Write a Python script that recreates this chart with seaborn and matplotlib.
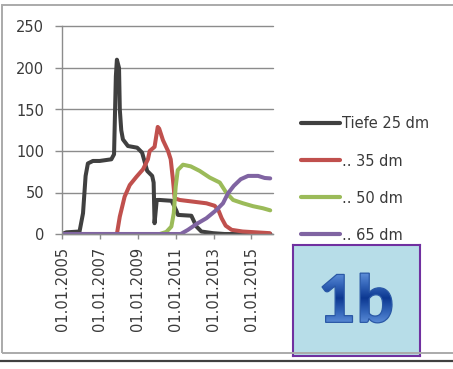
import numpy as np
import pandas as pd
import matplotlib
matplotlib.use("Agg")
import matplotlib.pyplot as plt
import matplotlib.dates as mdates
import matplotlib.transforms as mtransforms
from matplotlib.textpath import TextPath
from matplotlib.patches import PathPatch, Rectangle
from matplotlib.font_manager import FontProperties
from matplotlib.colors import LinearSegmentedColormap
from matplotlib.lines import Line2D
import seaborn as sns

# Measured series per depth
labels = ["Tiefe 25 dm", ".. 35 dm", ".. 50 dm", ".. 65 dm"]
colors = ["#404040", "#c0504d", "#9bbb59", "#8064a2"]

dates_25 = ["2005-01-01", "2005-03-25", "2005-12-05", "2006-02-10", "2006-04-01",
            "2006-05-15", "2006-08-20", "2006-12-28", "2007-08-10", "2007-10-01",
            "2007-11-05", "2007-11-25", "2008-01-05", "2008-01-20", "2008-02-17",
            "2008-03-20", "2008-06-25", "2008-12-20", "2009-03-25", "2009-07-01",
            "2009-10-05", "2009-11-02", "2009-11-20", "2010-01-01", "2010-02-28",
            "2010-10-15", "2011-01-15", "2011-02-14", "2011-10-30", "2012-02-05",
            "2012-05-10", "2012-12-20", "2013-08-01", "2016-01-01"]
values_25 = [0, 2, 3, 25, 70, 85, 88, 88, 90, 96,
             190, 210, 200, 150, 125, 114, 106, 104, 98, 76,
             70, 62, 13, 41, 41, 40, 28, 23, 22, 9,
             3, 1, 0, 0]

dates_35 = ["2005-01-01", "2007-11-25", "2008-01-20", "2008-04-22", "2008-07-30",
            "2008-12-07", "2009-04-12", "2009-07-15", "2009-08-18", "2009-11-20",
            "2010-01-20", "2010-02-17", "2010-05-01", "2010-08-07", "2010-09-27",
            "2010-11-10", "2010-12-13", "2011-03-18", "2011-12-01", "2012-08-15",
            "2013-01-22", "2013-04-08", "2013-06-05", "2013-08-22", "2013-12-15",
            "2014-07-15", "2015-12-20"]
values_35 = [0, 0, 21, 45, 59, 69, 78, 90, 100, 105,
             129, 127, 113, 100, 90, 65, 43, 41, 39, 37,
             34, 28, 19, 10, 5, 3, 1]

dates_50 = ["2005-01-01", "2010-02-28", "2010-07-05", "2010-10-10", "2010-11-25",
            "2011-01-01", "2011-02-10", "2011-05-22", "2011-10-18", "2012-04-08",
            "2012-10-18", "2013-04-30", "2013-09-05", "2014-01-12", "2014-07-22",
            "2015-01-31", "2015-08-10", "2015-12-28"]
values_50 = [0, 0, 2.5, 9, 25, 57, 77, 83.5, 81.5, 76,
             68, 62, 49.5, 41, 37, 33.5, 31, 28.5]

dates_65 = ["2005-01-01", "2011-04-08", "2011-08-25", "2012-02-05", "2012-08-15",
            "2013-02-25", "2013-07-01", "2013-10-05", "2014-01-25", "2014-06-07",
            "2014-10-27", "2015-05-08", "2015-09-13", "2015-12-28"]
values_65 = [0, 0, 5, 12, 19, 29, 37, 49, 58, 66,
             70, 70, 67.5, 67]

tick_dates = ["2005-01-01", "2007-01-01", "2009-01-01", "2011-01-01",
              "2013-01-01", "2015-01-01"]
y_ticks = [0, 50, 100, 150, 200, 250]

frames = []
for lab, d, v in zip(labels, [dates_25, dates_35, dates_50, dates_65],
                     [values_25, values_35, values_50, values_65]):
    frames.append(pd.DataFrame({"Datum": pd.to_datetime(d), "Wert": v, "Serie": lab}))
df = pd.concat(frames, ignore_index=True)

sns.set_theme(style="white")
plt.rcParams["font.family"] = ["DejaVu Sans"]
text_col = "#3a3a3a"
grid_col = "#8c8c8c"

fig = plt.figure(figsize=(4.53, 3.69), dpi=100)
fig.patch.set_facecolor("white")

# outer chart frame and bottom rule
fig.patches.append(Rectangle((2 / 453, 1 - 353 / 369), 460 / 453, 348 / 369,
                             transform=fig.transFigure, facecolor="none",
                             edgecolor="#aaaaaa", lw=1.4, zorder=0))
fig.lines.append(Line2D([0, 1], [1 - 361 / 369] * 2, transform=fig.transFigure,
                        color="#404040", lw=1.6))

ax = fig.add_axes([62 / 453, 135 / 369, 210.5 / 453, 207.5 / 369])
ax.set_facecolor("none")

sns.lineplot(data=df, x="Datum", y="Wert", hue="Serie", hue_order=labels,
             palette=dict(zip(labels, colors)), linewidth=2.9, ax=ax,
             estimator=None, sort=False)
for ln in ax.lines:
    ln.set_solid_joinstyle("round")
    ln.set_solid_capstyle("round")

ax.set_xlim(pd.Timestamp("2005-01-01"), pd.Timestamp("2016-02-10"))
ax.set_ylim(0, 250)
ax.set_yticks(y_ticks)
ax.set_xticks(pd.to_datetime(tick_dates))
ax.xaxis.set_major_formatter(mdates.DateFormatter("%d.%m.%Y"))
ax.set_xlabel("")
ax.set_ylabel("")
ax.yaxis.grid(True, color=grid_col, lw=1.0)
ax.xaxis.grid(False)
ax.set_axisbelow(True)
for gl in ax.get_ygridlines():
    gl.set_clip_on(False)
for s in ["top", "right"]:
    ax.spines[s].set_visible(False)
for s in ["left", "bottom"]:
    ax.spines[s].set_color(grid_col)
    ax.spines[s].set_linewidth(1.0)
ax.tick_params(axis="y", which="major", left=True, length=5, width=1.0,
               color=grid_col, pad=8, labelsize=10.5, labelcolor=text_col)
ax.tick_params(axis="x", which="major", bottom=True, length=3.5, width=1.0,
               color=grid_col, pad=6, labelsize=10.5, labelcolor=text_col,
               labelrotation=90)

handles, labs = ax.get_legend_handles_labels()
leg = ax.legend(handles, labs, loc="upper left",
                bbox_to_anchor=(301 / 453, 1 - 116.5 / 369),
                bbox_transform=fig.transFigure, frameon=False,
                fontsize=10.5, handlelength=2.7, handletextpad=0.1,
                borderpad=0, borderaxespad=0, labelspacing=1.51)
for h in leg.legend_handles:
    h.set_linewidth(3.0)
for t in leg.get_texts():
    t.set_color(text_col)

# label box "1b"
bx0, by_top, bw, bh = 293, 245, 127, 110.5
box_ax = fig.add_axes([bx0 / 453, 1 - (by_top + bh) / 369, bw / 453, bh / 369])
box_ax.set_facecolor("#b7dde8")
box_ax.set_xticks([])
box_ax.set_yticks([])
for s in box_ax.spines.values():
    s.set_color("#7030a0")
    s.set_linewidth(1.5)
box_ax.set_xlim(0, bw)
box_ax.set_ylim(0, bh)

tp = TextPath((0, 0), "1b", size=66, prop=FontProperties(family="Lato", weight="black"))
bb = tp.get_extents()
cx, cy = 357 - bx0, (by_top + bh) - 298
trans = mtransforms.Affine2D().translate(-(bb.x0 + bb.x1) / 2 + cx,
                                         -(bb.y0 + bb.y1) / 2 + cy) + box_ax.transData
glyph = PathPatch(tp, transform=trans, facecolor="none", edgecolor="#2a58a6",
                  lw=0.9, zorder=3)
box_ax.add_patch(glyph)
ytop = cy + (bb.y1 - bb.y0) / 2
ybot = cy - (bb.y1 - bb.y0) / 2
cmap = LinearSegmentedColormap.from_list(
    "blue_grad", [(0, "#5e8fd9"), (0.22, "#3667bb"), (0.5, "#0c3891"),
                  (0.78, "#3466ba"), (1, "#5a8bd6")])
img = box_ax.imshow(np.linspace(0, 1, 256).reshape(-1, 1), cmap=cmap,
                    extent=[0, bw, ybot, ytop], aspect="auto", origin="upper",
                    zorder=2)
img.set_clip_path(glyph)
box_ax.set_xlim(0, bw)
box_ax.set_ylim(0, bh)

fig.savefig("out.png", dpi=100, facecolor="white")
